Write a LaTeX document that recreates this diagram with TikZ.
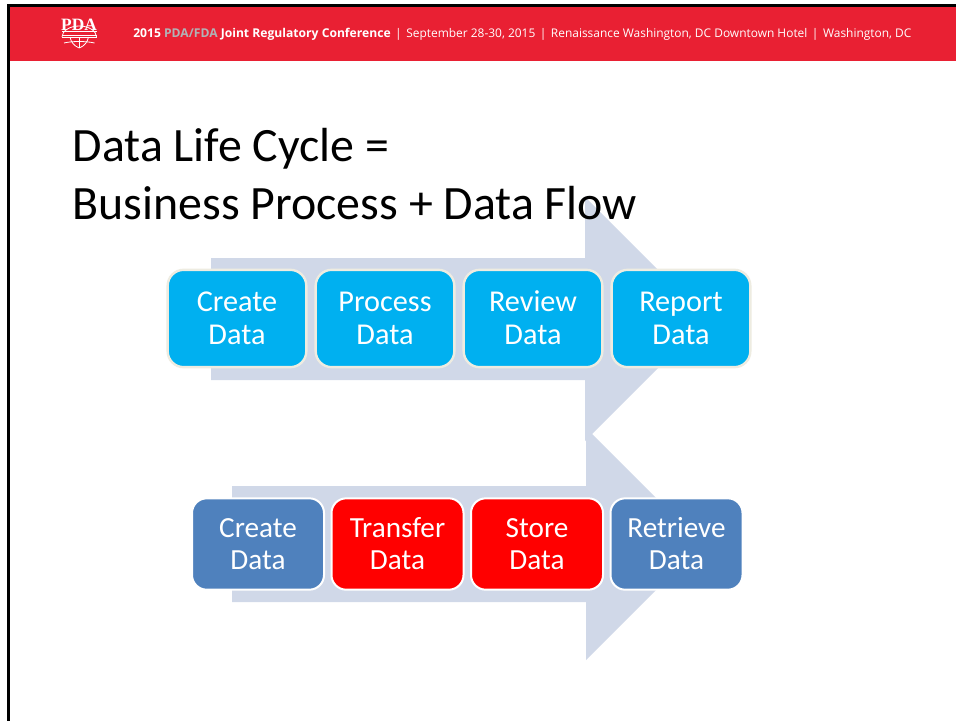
\documentclass[tikz,border=0pt]{standalone}
\usepackage{fontspec}
\setmainfont{Carlito}
\newfontfamily\headfont{Open Sans}
\newfontfamily\logofont{Liberation Serif}
\definecolor{banner}{HTML}{E92033}
\definecolor{arrowfill}{HTML}{D0D8E8}
\definecolor{cyanbox}{HTML}{00B0F0}
\definecolor{bluebox}{HTML}{4F81BD}
\definecolor{creamline}{HTML}{EEECE1}
\definecolor{headgrey}{HTML}{B1B3B6}
\newcommand{\twolines}[2]{\rule{0pt}{21.6pt}#1\\\strut #2}
\tikzset{
  procbox/.style={draw=creamline,line width=1.8pt,fill=cyanbox,rounded corners=12pt,text=white,align=center,
    inner sep=0pt,minimum width=104pt,minimum height=73pt,font=\fontsize{22.7pt}{24.8pt}\selectfont},
  flowbox/.style={draw=white,line width=1.5pt,rounded corners=11pt,text=white,align=center,
    inner sep=0pt,minimum width=99pt,minimum height=68.5pt,font=\fontsize{21.9pt}{24pt}\selectfont},
  bigarrow/.style={fill=arrowfill,draw=none},
  headtext/.style={inner sep=0pt,anchor=base west,text=white,font=\headfont\fontsize{8.95pt}{10pt}\selectfont},
  titletext/.style={inner sep=0pt,anchor=base west,text=black,font=\fontsize{35.9pt}{40pt}\selectfont}
}
\begin{document}
\begin{tikzpicture}[x=0.75pt,y=-0.75pt]
\useasboundingbox (0,0) rectangle (956,721);
\fill[white] (0,0) rectangle (956,721);
% slide frame and banner
\fill[banner] (10,7) rectangle (956,61);
\fill[black] (7,4) rectangle (956,7);
\fill[black] (7,4) rectangle (10,721);
% arrows
\fill[bigarrow] (211,258) -- (585,258) -- (585,197) -- (707,319) -- (585,441) -- (585,380) -- (211,380) -- cycle;
\fill[bigarrow] (232,486) -- (586,486) -- (586,428) -- (702,544) -- (586,660) -- (586,602) -- (232,602) -- cycle;
% logo
\node[inner sep=0pt,text=white,font=\logofont\bfseries\fontsize{13pt}{13pt}\selectfont] (logo) at (79,24.5) {PDA};
\fill[white] (61.5,31) rectangle (97,32.3);
\fill[white] (61.5,34.5) rectangle (97,35.3);
\begin{scope}[white,line width=0.6pt]
\draw (62,37) -- (96.5,37);
\draw (62,37) arc[start angle=180,end angle=360,x radius=17.25,y radius=11];
\draw (79.25,37) -- (79.25,48);
\draw (70,37) .. controls (71,42) and (74,46) .. (79.25,48);
\draw (88.5,37) .. controls (87.5,42) and (84.5,46) .. (79.25,48);
\draw (64,43) .. controls (72,41) and (86,41) .. (94.5,43);
\end{scope}
% header
\node[headtext] (hdr) at (133,37) {{\fontsize{9.1pt}{10pt}\selectfont\textbf{2015 \textcolor{headgrey}{PDA/FDA} Joint Regulatory Conference}}\hspace{3.4pt}|\hspace{3.4pt}September 28-30, 2015\hspace{3.4pt}|\hspace{3.4pt}Renaissance Washington, DC Downtown Hotel\hspace{3.4pt}|\hspace{3.4pt}Washington, DC};
% boxes row 1
\node[procbox] (c1) at (237,318.5) {\twolines{Create}{Data}};
\node[procbox] (p1) at (385,318.5) {\twolines{Process}{Data}};
\node[procbox] (r1) at (533,318.5) {\twolines{Review}{Data}};
\node[procbox] (t1) at (681,318.5) {\twolines{Report}{Data}};
% boxes row 2
\node[flowbox,fill=bluebox] (c2) at (258,544) {\twolines{Create}{Data}};
\node[flowbox,fill=red] (t2) at (397.5,544) {\twolines{Transfer}{Data}};
\node[flowbox,fill=red] (s2) at (537,544) {\twolines{Store}{Data}};
\node[flowbox,fill=bluebox] (r2) at (676.5,544) {\twolines{Retrieve}{Data}};
% title
\node[titletext] (title1) at (72.5,161) {Data Life Cycle =};
\node[titletext] (title2) at (72.5,219) {Business Process + Data Flow};
\end{tikzpicture}
\end{document}
